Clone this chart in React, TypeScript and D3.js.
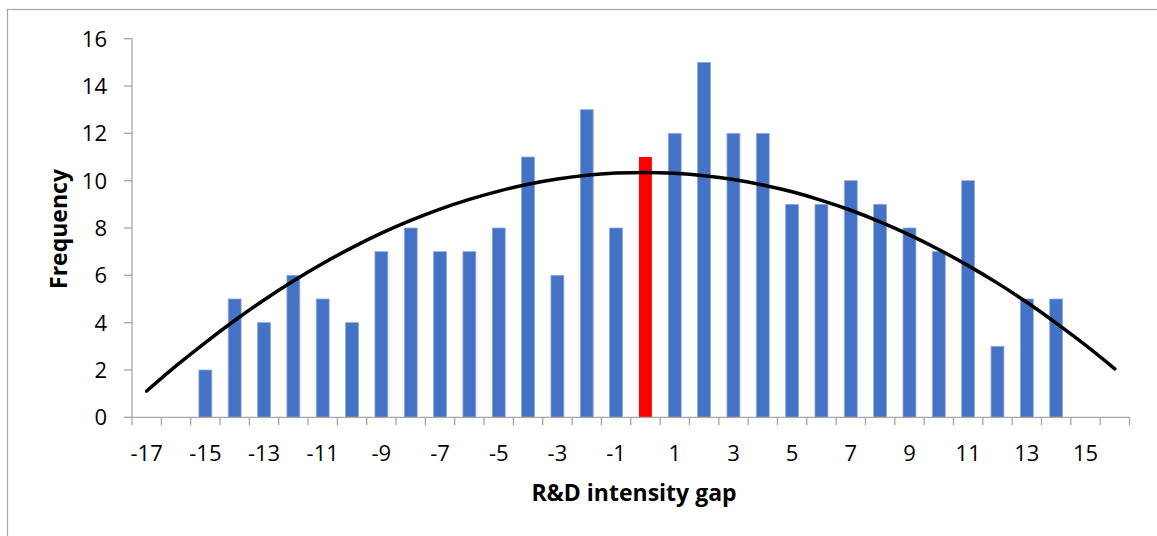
import React from "react";
import * as d3 from "d3";

// Gap categories (-17 … 16) and the observed frequency in each
const gaps: number[] = [
  -17, -16, -15, -14, -13, -12, -11, -10, -9, -8, -7, -6, -5, -4, -3, -2, -1,
  0, 1, 2, 3, 4, 5, 6, 7, 8, 9, 10, 11, 12, 13, 14, 15, 16,
];
const frequency: (number | null)[] = [
  null, null, 2, 5, 4, 6, 5, 4, 7, 8, 7, 7, 8, 11, 6, 13, 8,
  11, 12, 15, 12, 12, 9, 9, 10, 9, 8, 7, 10, 3, 5, 5, null, null,
];
// Fitted trend line, one value per category
const trend: number[] = [
  1.11, 2.17, 3.16, 4.09, 4.96, 5.76, 6.5, 7.17, 7.78, 8.32, 8.8, 9.21, 9.56,
  9.85, 10.07, 10.23, 10.32, 10.35, 10.31, 10.21, 10.05, 9.82, 9.53, 9.17,
  8.75, 8.26, 7.71, 7.09, 6.41, 5.67, 4.86, 3.98, 3.05, 2.05,
];
const highlightGap = 0;
const yTicks: number[] = [0, 2, 4, 6, 8, 10, 12, 14, 16];
const xTickLabels: number[] = [-17, -15, -13, -11, -9, -7, -5, -3, -1, 1, 3, 5, 7, 9, 11, 13, 15];

const W = 1157;
const H = 536;
const plot = { left: 132, right: 1129.5, top: 38.7, bottom: 417.3 };
const FONT = "'Open Sans', 'Noto Sans', sans-serif";
const AXIS = "#a6a6a6";

export default function App() {
  const x = d3
    .scaleBand<number>()
    .domain(gaps)
    .range([plot.left, plot.right])
    .paddingInner(0.56)
    .paddingOuter(0.28);
  const step = (plot.right - plot.left) / gaps.length;
  const center = (g: number) => plot.left + (gaps.indexOf(g) + 0.5) * step;
  const y = d3.scaleLinear().domain([0, 16]).range([plot.bottom, plot.top]);

  const line = d3
    .line<number>()
    .x((_, i) => center(gaps[i]))
    .y((v) => y(v))
    .curve(d3.curveMonotoneX);

  const bw = x.bandwidth();

  return (
    <svg
      width={W}
      height={H}
      style={{ position: "absolute", left: 0, top: 0, background: "#fff" }}
      fontFamily={FONT}
    >
      <rect x={7.5} y={9.5} width={W + 10} height={H + 10} fill="none" stroke={AXIS} strokeWidth={1.2} />

      {/* bars */}
      {gaps.map((g, i) => {
        const v = frequency[i];
        if (v == null) return null;
        const isHi = g === highlightGap;
        const cx = center(g);
        return (
          <rect
            key={g}
            x={cx - bw / 2}
            y={y(v)}
            width={bw}
            height={y(0) - y(v)}
            fill={isHi ? "#ff0000" : "#4472c4"}
            stroke={isHi ? "none" : "#8faadc"}
            strokeWidth={isHi ? 0 : 0.8}
          />
        );
      })}

      {/* y axis */}
      <line x1={plot.left} x2={plot.left} y1={plot.top} y2={plot.bottom} stroke={AXIS} strokeWidth={1.3} />
      {yTicks.map((t) => (
        <g key={t}>
          <line x1={plot.left - 8} x2={plot.left} y1={y(t)} y2={y(t)} stroke={AXIS} strokeWidth={1.3} />
          <text x={107} y={y(t) + 8} textAnchor="end" fontSize={22} fill="#000">
            {t}
          </text>
        </g>
      ))}

      {/* x axis */}
      <line x1={plot.left} x2={plot.right} y1={plot.bottom} y2={plot.bottom} stroke={AXIS} strokeWidth={1.3} />
      {d3.range(gaps.length + 1).map((i) => {
        const tx = plot.left + i * step;
        return <line key={i} x1={tx} x2={tx} y1={plot.bottom} y2={plot.bottom + 8} stroke={AXIS} strokeWidth={1.3} />;
      })}
      {xTickLabels.map((t) => (
        <text key={t} x={center(t)} y={461} textAnchor="middle" fontSize={22} fill="#000">
          {t}
        </text>
      ))}

      {/* trend line */}
      <path d={line(trend) ?? ""} fill="none" stroke="#000" strokeWidth={3.5} strokeLinecap="round" />

      {/* axis titles */}
      <text x={634} y={501} textAnchor="middle" fontSize={23} fontWeight="bold" fill="#000">
        R&amp;D intensity gap
      </text>
      <text
        transform={`translate(67, 229) rotate(-90)`}
        textAnchor="middle"
        fontSize={23}
        fontWeight="bold"
        fill="#000"
      >
        Frequency
      </text>
    </svg>
  );
}
